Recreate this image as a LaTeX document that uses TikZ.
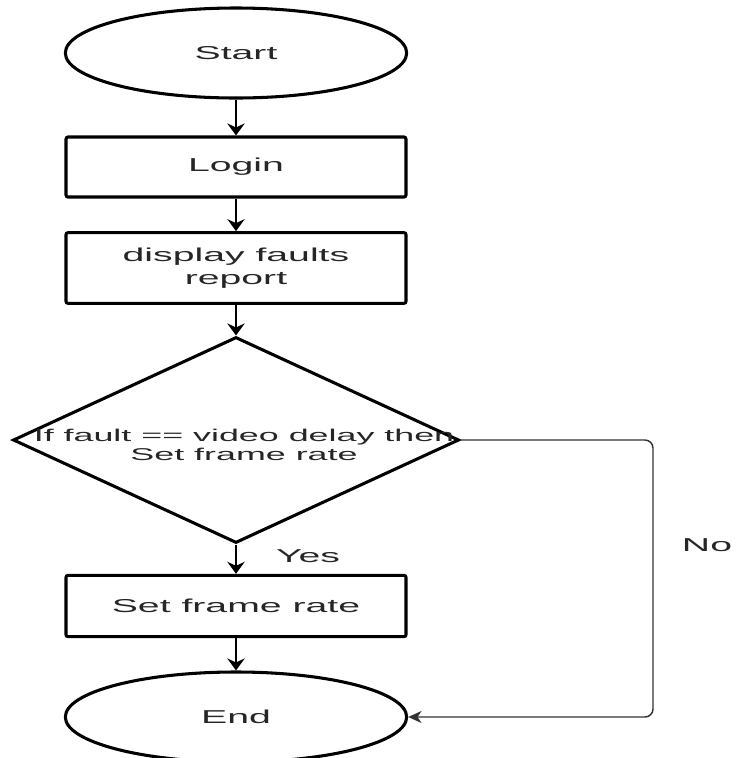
\documentclass[tikz,border=0pt]{standalone}
\usepackage{fontspec}
\setmainfont{Liberation Sans}[FakeStretch=2.1]
\usetikzlibrary{shapes.geometric,arrows.meta}

\begin{document}
\begin{tikzpicture}[x=0.75pt,y=0.75pt,yscale=-1,xscale=1,
	terminal/.style={draw,line width=2.3pt,ellipse,inner sep=0pt,minimum width=256pt,minimum height=67.5pt,text=black!85,font=\fontsize{14}{17.5}\selectfont},
	process/.style={draw,line width=2.3pt,rounded corners=1.5pt,inner sep=0pt,minimum width=255pt,align=center,text=black!85,font=\fontsize{14}{17.5}\selectfont},
	decision/.style={draw,line width=2.3pt,diamond,inner sep=0pt,minimum width=334.5pt,minimum height=154.5pt},
	flow/.style={line width=1.8pt,-{Stealth[length=9pt,width=13pt,inset=3pt]}},
	nopath/.style={line width=1.1pt,draw=black!80,rounded corners=6pt,-{Stealth[length=10pt,width=9pt,inset=3pt]}},
	lbl/.style={inner sep=0.75pt,text=black!85,font=\fontsize{14}{17.5}\selectfont}]
	\useasboundingbox (0,0) rectangle (736,758);
	
	%Shape: Ellipse [id:start]
	\node [terminal] (start) at (236,53) {Start};
	%Shape: Rectangle [id:login]
	\node [process,minimum height=45pt] (login) at (236,167) {Login};
	%Shape: Rectangle [id:faults]
	\node [process,minimum height=53pt] (faults) at (236,268) {display faults\\report};
	%Shape: Diamond [id:check]
	\node [decision] (check) at (236,440) {};
	% Text Node
	\node [align=center,inner sep=0pt,text=black!85,font=\fontsize{12.8}{14.5}\selectfont] (checktxt) at (244,445) {If fault == video delay then\\Set frame rate};
	%Shape: Rectangle [id:setrate]
	\node [process,minimum height=46pt] (setrate) at (236,606) {Set frame rate};
	%Shape: Ellipse [id:stop]
	\node [terminal] (stop) at (236,717) {End};
	
	%Straight Lines
	\draw [flow] (start) -- (login);
	\draw [flow] (login) -- (faults);
	\draw [flow] (faults) -- (check);
	\draw [flow] (check) -- (setrate);
	\draw [flow] (setrate) -- (stop);
	%Connector: No branch
	\draw [nopath] (check.east) -- (653,440) -- (653,717) -- (stop.east);
	
	% Text Node
	\node [lbl] (yes) at (308,556) {Yes};
	% Text Node
	\node [lbl] (no) at (707,545) {No};
	
\end{tikzpicture}
\end{document}
